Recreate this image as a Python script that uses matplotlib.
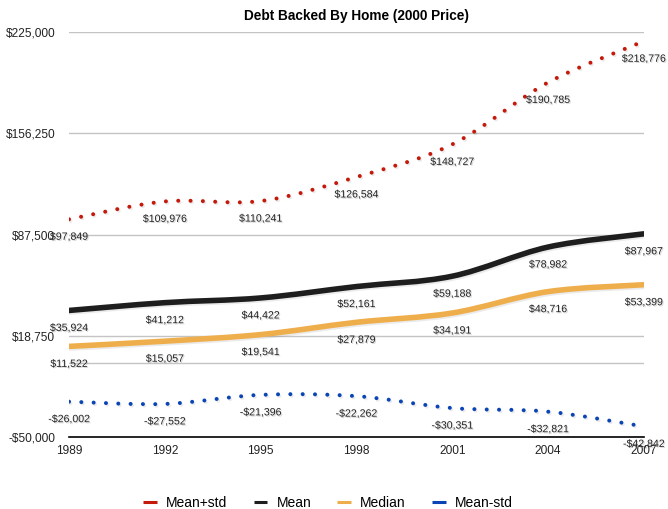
import matplotlib
matplotlib.use("Agg")
import matplotlib.pyplot as plt
import matplotlib.patheffects as pe
from matplotlib.path import Path
from matplotlib.patches import PathPatch
from matplotlib.lines import Line2D
from matplotlib.ticker import FuncFormatter

plt.rcParams["font.family"] = ["Liberation Sans", "DejaVu Sans"]

years = [1989, 1992, 1995, 1998, 2001, 2004, 2007]
mean_plus_std = [97849, 109976, 110241, 126584, 148727, 190785, 218776]
mean = [35924, 41212, 44422, 52161, 59188, 78982, 87967]
median = [11522, 15057, 19541, 27879, 34191, 48716, 53399]
mean_minus_std = [-26002, -27552, -21396, -22262, -30351, -32821, -42842]

series_names = ["Mean+std", "Mean", "Median", "Mean-std"]
series_colors = ["#c41a0c", "#1e1e1e", "#efae4c", "#0b45b5"]
y_ticks = [-50000, 18750, 87500, 156250, 225000]


def smooth_path(xs, ys):
    # Catmull-Rom through the points, written as cubic Bezier segments
    pts = list(zip(xs, ys))
    verts = [pts[0]]
    codes = [Path.MOVETO]
    n = len(pts)
    for i in range(n - 1):
        p0 = pts[max(i - 1, 0)]
        p1 = pts[i]
        p2 = pts[i + 1]
        p3 = pts[min(i + 2, n - 1)]
        c1 = (p1[0] + (p2[0] - p0[0]) / 6, p1[1] + (p2[1] - p0[1]) / 6)
        c2 = (p2[0] - (p3[0] - p1[0]) / 6, p2[1] - (p3[1] - p1[1]) / 6)
        verts += [c1, c2, p2]
        codes += [Path.CURVE4] * 3
    return Path(verts, codes)


def money(v, pos=None):
    v = int(round(v))
    return f"-${-v:,}" if v < 0 else f"${v:,}"


fig = plt.figure(figsize=(6.68, 5.09), dpi=100)
ax = fig.add_axes([0.1033, 0.1415, 0.8605, 0.7955])

for y in [0, 18750, 87500, 156250, 225000]:
    ax.axhline(y, color="#c4c4c4", lw=1.0, zorder=1)

shadow = [pe.SimpleLineShadow(offset=(1, -1.2), shadow_color="k", alpha=0.08), pe.Normal()]
text_fx = [pe.withSimplePatchShadow(offset=(0.8, -0.8), shadow_rgbFace="#888888", alpha=0.35)]

all_series = [mean_plus_std, mean, median, mean_minus_std]
for name, vals, color in zip(series_names, all_series, series_colors):
    dotted = name in ("Mean+std", "Mean-std")
    patch = PathPatch(smooth_path(years, vals), fill=False, edgecolor=color,
                      lw=2.9 if dotted else 4.0, capstyle="round", joinstyle="round",
                      linestyle=(0, (0.01, 3.05)) if dotted else "-",
                      zorder=3, path_effects=shadow)
    ax.add_patch(patch)
    for x, v in zip(years, vals):
        ax.annotate(money(v), (x, v), xytext=(0, -9), textcoords="offset points",
                    ha="center", va="top", fontsize=7.6, color="#222222",
                    zorder=4, path_effects=text_fx)

ax.set_xlim(1989, 2007)
ax.set_ylim(-50000, 225000)
ax.set_xticks(years)
ax.set_yticks(y_ticks)
ax.yaxis.set_major_formatter(FuncFormatter(money))
ax.tick_params(length=0, labelsize=8.6, colors="#222222")
ax.tick_params(axis="y", pad=10)
ax.tick_params(axis="x", pad=6)
for s in ["top", "right", "left"]:
    ax.spines[s].set_visible(False)
ax.spines["bottom"].set_color("black")
ax.spines["bottom"].set_linewidth(1.2)

ax.set_title("Debt Backed By Home (2000 Price)", fontsize=9.8, fontweight="bold", pad=9)

handles = [Line2D([], [], color=c, lw=2.2, solid_capstyle="butt") for c in series_colors]
fig.legend(handles, series_names, loc="center", bbox_to_anchor=(0.491, 0.012),
           ncol=4, frameon=False, fontsize=10, handlelength=1.0,
           columnspacing=1.87, handletextpad=0.65)

fig.savefig("out.png", dpi=100)
